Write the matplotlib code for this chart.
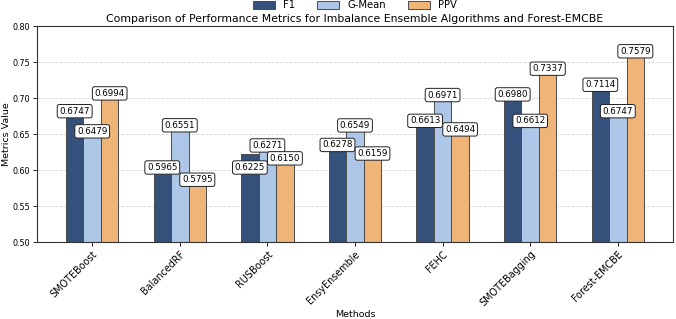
import numpy as np
import matplotlib
matplotlib.use("Agg")
import matplotlib.pyplot as plt

methods = ["SMOTEBoost", "BalancedRF", "RUSBoost", "EnsyEnsemble", "FEHC", "SMOTEBagging", "Forest-EMCBE"]
f1 = [0.6747, 0.5965, 0.6225, 0.6278, 0.6613, 0.6980, 0.7114]
gmean = [0.6479, 0.6551, 0.6271, 0.6549, 0.6971, 0.6612, 0.6747]
ppv = [0.6994, 0.5795, 0.6150, 0.6159, 0.6494, 0.7337, 0.7579]

series = [("F1", f1, "#34527c"), ("G-Mean", gmean, "#aec7e8"), ("PPV", ppv, "#efb477")]

# label nudges (label centre = value + dy); a couple were pushed to avoid overlaps
default_dy = 0.007
nudge = {("F1", 2): -0.019, ("PPV", 2): 0.0012, ("G-Mean", 0): 0.0058}

fig = plt.figure(figsize=(6.76, 3.19), dpi=100)
ax = fig.add_axes([37 / 676, 1 - 242 / 319, 636 / 676, 216 / 319])

x = np.arange(len(methods))
w = 0.2
for i, (name, vals, col) in enumerate(series):
    pos = x + (i - 1) * w
    ax.bar(pos, vals, w, color=col, edgecolor="#4a4a4a", linewidth=0.7, label=name, zorder=2)
    for j, (p, v) in enumerate(zip(pos, vals)):
        dy = nudge.get((name, j), default_dy)
        ax.text(p, v + dy, f"{v:.4f}", ha="center", va="center", fontsize=6.3, zorder=5,
                bbox=dict(boxstyle="round,pad=0.25", fc="white", ec="#222222", lw=0.7))

ax.set_ylim(0.5, 0.8)
ax.set_yticks(np.arange(0.5, 0.801, 0.05))
ax.set_xticks(x)
ax.set_xticklabels(methods, rotation=45, ha="right", rotation_mode="anchor", fontsize=6.9)
ax.tick_params(axis="y", labelsize=5.8, length=3, width=0.6, pad=2)
ax.tick_params(axis="x", length=3, width=0.6, pad=2)
ax.grid(axis="y", linestyle="--", linewidth=0.6, color="#cccccc", alpha=0.8)
ax.set_axisbelow(True)
for s in ax.spines.values():
    s.set_linewidth(0.8)
    s.set_color("#333333")

ax.set_xlabel("Methods", fontsize=6.8, labelpad=1)
ax.set_ylabel("Metrics Value", fontsize=6.8, labelpad=1)
ax.set_title("Comparison of Performance Metrics for Imbalance Ensemble Algorithms and Forest-EMCBE",
             fontsize=7.8, pad=3)
ax.legend(loc="center", bbox_to_anchor=(0.5, 1.095), ncol=3, frameon=False, fontsize=7.2,
          handlelength=2.2, handleheight=0.8, columnspacing=2.2, borderaxespad=0)

fig.savefig("out.png", dpi=100)
